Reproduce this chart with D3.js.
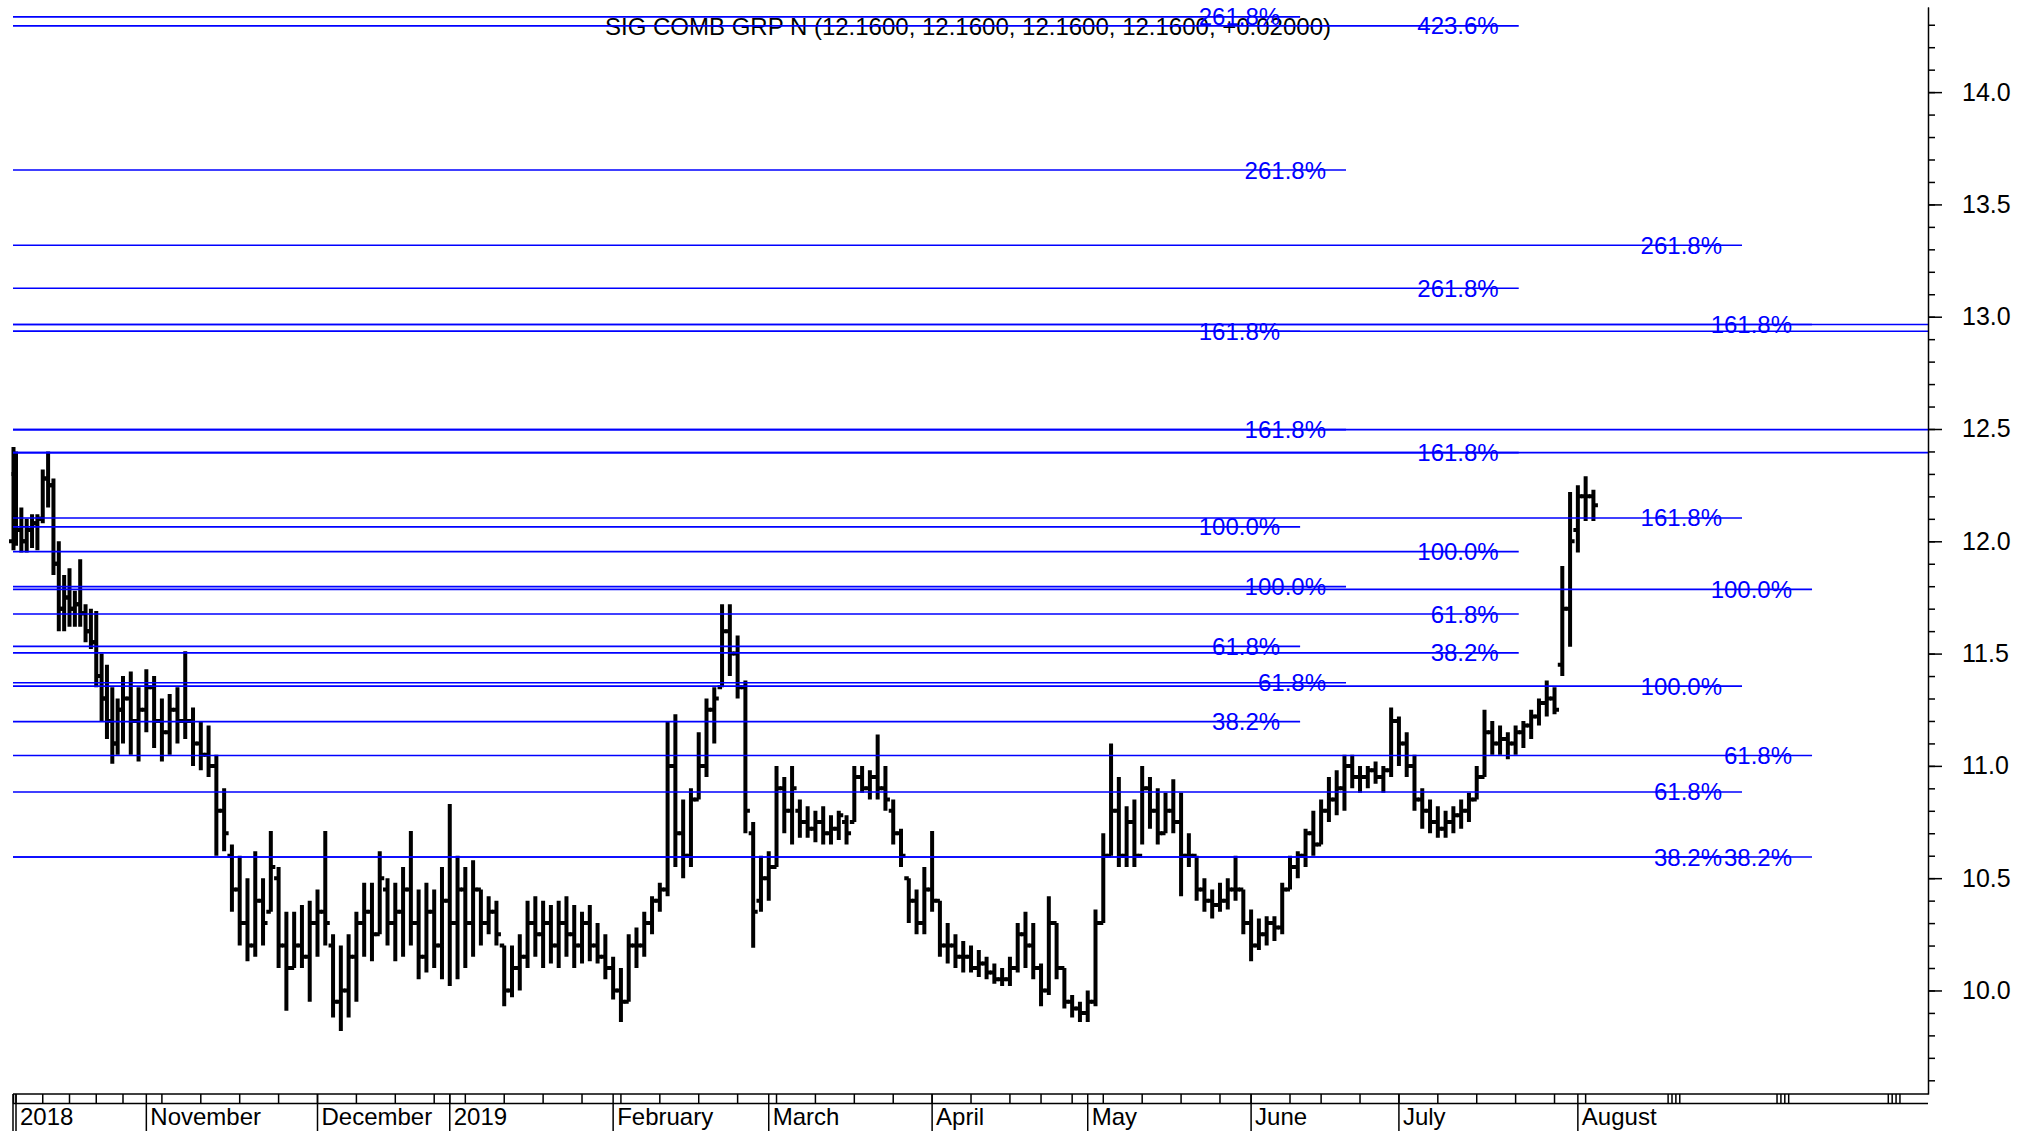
<!DOCTYPE html>
<html>
<head>
<meta charset="utf-8">
<script src="https://cdn.jsdelivr.net/npm/d3@7"></script>
<style>
  html, body { margin: 0; padding: 0; background: #fff; }
  svg { display: block; font-family: "Liberation Sans", Arial, sans-serif; }
</style>
</head>
<body>
<svg id="chart"></svg>
<script>
// ---- data -------------------------------------------------------------
const title = "SIG COMB GRP N (12.1600, 12.1600, 12.1600, 12.1600, +0.02000)";

// SIX trading calendar for the period shown
const firstDay = "2018-09-28";
const lastDay = "2019-08-06";
const holidays = ["2018-12-24", "2018-12-25", "2018-12-26", "2018-12-31", "2019-01-01",
  "2019-01-02", "2019-04-19", "2019-04-22", "2019-05-01", "2019-05-30", "2019-06-10", "2019-08-01"];

const monthLabels = ["2018", "November", "December", "2019", "February", "March",
  "April", "May", "June", "July", "August"];

const highs = [
  12.42,12.40,12.15,12.10,12.12,12.12,12.32,12.40,12.28,12.00,
  11.85,11.88,11.78,11.92,11.72,11.70,11.69,11.50,11.45,11.35,
  11.30,11.40,11.42,11.35,11.43,11.40,11.30,11.32,11.35,11.51,
  11.26,11.20,11.18,11.05,10.90,10.65,10.60,10.50,10.62,10.50,
  10.71,10.55,10.35,10.35,10.38,10.40,10.45,10.71,10.25,10.20,
  10.25,10.35,10.48,10.48,10.62,10.50,10.48,10.55,10.71,10.45,
  10.48,10.45,10.55,10.83,10.60,10.55,10.58,10.45,10.42,10.40,
  10.20,10.20,10.25,10.40,10.42,10.40,10.38,10.40,10.42,10.38,
  10.35,10.38,10.30,10.25,10.15,10.10,10.25,10.28,10.35,10.42,
  10.48,11.20,11.23,10.85,10.90,11.15,11.30,11.35,11.72,11.72,
  11.58,11.38,10.75,10.60,10.62,11.00,10.95,11.00,10.85,10.82,
  10.80,10.82,10.78,10.80,10.78,11.00,11.00,10.98,11.14,11.00,
  10.85,10.72,10.50,10.45,10.55,10.71,10.40,10.30,10.25,10.22,
  10.20,10.18,10.15,10.12,10.10,10.15,10.30,10.35,10.30,10.12,
  10.42,10.30,10.10,9.98,9.95,10.00,10.36,10.70,11.10,10.95,
  10.82,10.85,11.00,10.95,10.90,10.88,10.94,10.88,10.70,10.60,
  10.50,10.45,10.48,10.50,10.60,10.45,10.36,10.32,10.33,10.33,
  10.48,10.60,10.62,10.72,10.80,10.85,10.95,10.98,11.05,11.05,
  11.00,11.00,11.02,11.00,11.26,11.22,11.15,11.05,10.90,10.85,
  10.82,10.80,10.82,10.85,10.88,11.00,11.25,11.20,11.18,11.15,
  11.18,11.20,11.25,11.30,11.38,11.35,11.89,12.22,12.25,12.29,
  12.23];

const lows = [
  11.96,11.98,11.95,11.95,11.97,11.96,12.08,12.15,11.85,11.60,
  11.60,11.62,11.62,11.62,11.55,11.52,11.35,11.20,11.12,11.01,
  11.05,11.10,11.05,11.02,11.15,11.08,11.02,11.05,11.10,11.12,
  11.00,10.98,10.95,10.60,10.62,10.35,10.20,10.13,10.15,10.20,
  10.35,10.10,9.91,10.10,10.10,9.95,10.15,10.20,9.88,9.82,
  9.88,9.95,10.15,10.13,10.25,10.20,10.13,10.15,10.20,10.05,
  10.08,10.10,10.05,10.02,10.05,10.10,10.15,10.20,10.25,10.20,
  9.93,9.97,10.00,10.10,10.15,10.10,10.12,10.10,10.15,10.10,
  10.12,10.13,10.12,10.05,9.96,9.86,9.95,10.10,10.15,10.25,
  10.35,10.42,10.55,10.50,10.55,10.85,10.95,11.10,11.35,11.40,
  11.30,10.70,10.19,10.35,10.40,10.55,10.70,10.65,10.68,10.68,
  10.66,10.65,10.65,10.67,10.65,10.75,10.88,10.85,10.85,10.80,
  10.65,10.55,10.30,10.25,10.25,10.35,10.15,10.12,10.10,10.08,
  10.08,10.06,10.05,10.03,10.02,10.02,10.08,10.10,10.05,9.93,
  9.98,10.05,9.92,9.88,9.86,9.86,9.93,10.30,10.60,10.55,
  10.55,10.55,10.65,10.72,10.65,10.70,10.70,10.42,10.55,10.40,
  10.35,10.32,10.35,10.36,10.40,10.25,10.13,10.18,10.20,10.22,
  10.25,10.45,10.50,10.55,10.60,10.65,10.75,10.78,10.80,10.90,
  10.88,10.90,10.92,10.88,10.95,11.00,10.95,10.80,10.72,10.70,
  10.68,10.68,10.70,10.72,10.75,10.85,10.95,11.05,11.05,11.03,
  11.05,11.08,11.12,11.18,11.22,11.23,11.40,11.53,11.95,12.09,
  12.09];

const opens = [
  12.00,12.30,12.05,12.00,12.05,12.08,12.10,12.28,12.25,11.90,
  11.70,11.75,11.70,11.72,11.68,11.60,11.55,11.40,11.30,11.20,
  11.10,11.25,11.30,11.20,11.25,11.35,11.20,11.15,11.25,11.20,
  11.20,11.10,11.05,11.00,10.80,10.60,10.45,10.30,10.20,10.40,
  10.35,10.50,10.20,10.10,10.20,10.15,10.30,10.35,10.20,9.95,
  10.00,10.15,10.30,10.35,10.25,10.45,10.30,10.35,10.45,10.30,
  10.15,10.35,10.20,10.40,10.30,10.45,10.30,10.45,10.30,10.35,
  10.20,10.00,10.10,10.15,10.30,10.25,10.30,10.20,10.30,10.25,
  10.20,10.30,10.20,10.15,10.10,10.00,9.95,10.20,10.20,10.30,
  10.40,10.45,11.00,10.70,10.60,10.85,11.00,11.25,11.35,11.60,
  11.50,11.35,10.70,10.40,10.50,10.55,10.90,10.80,10.80,10.75,
  10.72,10.75,10.70,10.72,10.75,10.75,10.95,10.90,10.95,10.90,
  10.80,10.70,10.50,10.40,10.30,10.45,10.40,10.20,10.20,10.15,
  10.15,10.10,10.12,10.08,10.05,10.05,10.10,10.25,10.20,10.10,
  10.00,10.30,10.10,9.95,9.92,9.90,9.95,10.30,10.60,10.80,
  10.60,10.75,10.60,10.90,10.80,10.70,10.80,10.75,10.60,10.60,
  10.45,10.40,10.38,10.40,10.45,10.45,10.30,10.20,10.25,10.30,
  10.28,10.45,10.55,10.60,10.70,10.65,10.80,10.85,10.90,11.00,
  10.95,10.95,10.98,10.95,10.98,11.20,11.10,11.00,10.85,10.80,
  10.75,10.72,10.75,10.78,10.80,10.85,10.95,11.15,11.10,11.12,
  11.10,11.15,11.18,11.22,11.28,11.30,11.45,11.70,12.05,12.20,
  12.20];

const closes = [
  12.30,12.05,12.00,12.05,12.08,12.10,12.28,12.25,11.90,11.70,
  11.75,11.70,11.72,11.68,11.60,11.55,11.40,11.30,11.20,11.10,
  11.25,11.30,11.20,11.25,11.35,11.20,11.15,11.25,11.20,11.20,
  11.10,11.05,11.00,10.80,10.70,10.45,10.30,10.20,10.40,10.30,
  10.55,10.20,10.10,10.20,10.15,10.30,10.35,10.30,9.95,10.00,
  10.15,10.30,10.35,10.25,10.50,10.30,10.35,10.45,10.30,10.15,
  10.35,10.20,10.40,10.30,10.45,10.30,10.45,10.30,10.35,10.25,
  10.00,10.10,10.15,10.30,10.25,10.30,10.20,10.30,10.25,10.20,
  10.30,10.20,10.15,10.10,10.00,9.95,10.20,10.20,10.30,10.40,
  10.45,11.00,10.70,10.60,10.85,11.00,11.25,11.30,11.60,11.50,
  11.35,10.80,10.35,10.50,10.55,10.90,10.80,10.90,10.75,10.72,
  10.75,10.70,10.72,10.78,10.70,10.95,10.90,10.95,10.90,10.85,
  10.70,10.60,10.40,10.30,10.45,10.40,10.20,10.20,10.15,10.15,
  10.10,10.12,10.08,10.05,10.05,10.10,10.25,10.20,10.10,10.00,
  10.30,10.10,9.95,9.92,9.90,9.95,10.30,10.60,10.80,10.60,
  10.75,10.60,10.90,10.80,10.70,10.80,10.75,10.60,10.60,10.45,
  10.40,10.38,10.40,10.45,10.45,10.30,10.20,10.25,10.30,10.28,
  10.45,10.55,10.60,10.70,10.65,10.80,10.85,10.90,11.00,10.95,
  10.95,10.98,10.95,10.98,11.20,11.10,11.00,10.85,10.80,10.75,
  10.72,10.75,10.78,10.80,10.85,10.95,11.15,11.10,11.12,11.10,
  11.15,11.18,11.22,11.28,11.30,11.25,11.70,12.00,12.20,12.20,
  12.16];

// Fibonacci extension sets: levels (price), labels, and where each set ends (bar index)
const fibEnds = [172.3, 178.2, 200.4, 229.1, 238.1];
const fibLabelsA = ["261.8%", "161.8%", "100.0%", "61.8%", "38.2%"];
const fibLevelsA = [14.335, 12.935, 12.064, 11.532, 11.197];
const fibLabelsB = ["261.8%", "161.8%", "100.0%", "61.8%"];
const fibLevelsB = [13.653, 12.497, 11.798, 11.370];
const fibLabelsC = ["423.6%", "261.8%", "161.8%", "100.0%", "61.8%", "38.2%"];
const fibLevelsC = [14.295, 13.127, 12.395, 11.954, 11.676, 11.503];
const fibLabelsD = ["261.8%", "161.8%", "100.0%", "61.8%", "38.2%"];
const fibLevelsD = [13.318, 12.104, 11.355, 10.884, 10.594];
const fibLabelsE = ["161.8%", "100.0%", "61.8%", "38.2%"];
const fibLevelsE = [12.965, 11.786, 11.046, 10.594];
// levels that run on to the price axis
const extendedLevels = [fibLevelsA[1], fibLevelsB[1], fibLevelsC[2], fibLevelsE[0]];

// extra tick marks on the time axis beyond the last bar (bar index)
const futureTicks = [219.6, 220.1, 220.6, 221.1, 233.6, 234.1, 234.6, 235.1, 247.9, 248.4, 248.9, 249.4];

const priceTicksMajor = [10.0, 10.5, 11.0, 11.5, 12.0, 12.5, 13.0, 13.5, 14.0];
const priceTicksMinor = d3.range(96, 144).map(d => d / 10);

// ---- layout -----------------------------------------------------------
const width = 2035, height = 1131;
const plotLeft = 13, axisX = 1928;
const plotTop = 7, axisY = 1094, axisY2 = 1103.5;
const blue = "#0000ff";

const svg = d3.select("#chart").attr("width", width).attr("height", height);

// trading days
const fmt = d3.timeFormat("%Y-%m-%d");
const parse = d3.timeParse("%Y-%m-%d");
const hol = new Set(holidays);
const dates = [];
for (let d = parse(firstDay); d <= parse(lastDay); d = d3.timeDay.offset(d, 1)) {
  const wd = d.getDay();
  if (wd !== 0 && wd !== 6 && !hol.has(fmt(d))) dates.push(d);
}
const n = Math.min(dates.length, highs.length);
const bars = d3.range(n).map(i => ({
  i, date: dates[i], o: opens[i], h: highs[i], l: lows[i], c: closes[i]
}));

// October 2018 bars sit closer together than the rest
const dayW = 7.78;
const x = d3.scaleLinear()
  .domain([0, 1, 21, 210])
  .range([13.5, 16, 123, 123 + 189 * dayW]);

const y = d3.scaleLinear()
  .domain([9.539, 14.379])
  .range([axisY, plotTop]);

// title
svg.append("text")
  .attr("x", 968)
  .attr("y", 35)
  .attr("text-anchor", "middle")
  .attr("font-size", 24)
  .attr("fill", "#000")
  .text(title);

// OHLC bars
const barG = svg.append("g")
  .attr("stroke", "#000")
  .attr("stroke-width", 4)
  .attr("fill", "none");

barG.selectAll("path")
  .data(bars)
  .join("path")
  .attr("d", b => {
    const bx = x(b.i);
    return `M${bx},${y(b.h)}V${y(b.l)}` +
      `M${bx - 4.5},${y(b.o)}H${bx}` +
      `M${bx},${y(b.c)}H${bx + 4.5}`;
  });

// Fibonacci lines
const fibSets = [
  { end: fibEnds[0], labels: fibLabelsA, levels: fibLevelsA },
  { end: fibEnds[1], labels: fibLabelsB, levels: fibLevelsB },
  { end: fibEnds[2], labels: fibLabelsC, levels: fibLevelsC },
  { end: fibEnds[3], labels: fibLabelsD, levels: fibLevelsD },
  { end: fibEnds[4], labels: fibLabelsE, levels: fibLevelsE }
];
const fibLines = fibSets.flatMap(s =>
  s.levels.map((v, k) => ({ v, label: s.labels[k], end: s.end })));

const fibG = svg.append("g");
fibG.selectAll("line.ext")
  .data(extendedLevels)
  .join("line")
  .attr("class", "ext")
  .attr("x1", plotLeft)
  .attr("x2", axisX)
  .attr("y1", d => y(d))
  .attr("y2", d => y(d))
  .attr("stroke", blue)
  .attr("stroke-width", 1.6);

fibG.selectAll("line.fib")
  .data(fibLines)
  .join("line")
  .attr("class", "fib")
  .attr("x1", plotLeft)
  .attr("x2", d => x(d.end))
  .attr("y1", d => y(d.v))
  .attr("y2", d => y(d.v))
  .attr("stroke", blue)
  .attr("stroke-width", 1.6);

fibG.selectAll("text")
  .data(fibLines)
  .join("text")
  .attr("x", d => x(d.end) - 20)
  .attr("y", d => y(d.v) + 8.5)
  .attr("text-anchor", "end")
  .attr("font-size", 24)
  .attr("fill", blue)
  .text(d => d.label);

// price axis on the right
const yAxisMinor = d3.axisRight(y)
  .tickValues(priceTicksMinor)
  .tickSize(7)
  .tickSizeOuter(0)
  .tickFormat("");
const yAxisMajor = d3.axisRight(y)
  .tickValues(priceTicksMajor)
  .tickSize(14)
  .tickSizeOuter(0)
  .tickPadding(20)
  .tickFormat(d3.format(".1f"));

svg.append("g")
  .attr("transform", `translate(${axisX},0)`)
  .call(yAxisMinor)
  .call(g => g.selectAll("line").attr("stroke-width", 1.5));

svg.append("g")
  .attr("transform", `translate(${axisX},0)`)
  .call(yAxisMajor)
  .call(g => g.select(".domain").attr("stroke-width", 1.5))
  .call(g => g.selectAll("line").attr("stroke-width", 1.5))
  .call(g => g.selectAll("text")
    .attr("font-size", 25)
    .attr("font-family", "'Liberation Sans', Arial, sans-serif")
    .attr("fill", "#000"));

// time axis along the bottom
const timeG = svg.append("g").attr("stroke", "#000").attr("stroke-width", 1.5);
timeG.append("line").attr("x1", plotLeft).attr("x2", axisX).attr("y1", axisY).attr("y2", axisY);
timeG.append("line").attr("x1", plotLeft).attr("x2", axisX).attr("y1", axisY2).attr("y2", axisY2);
timeG.append("line").attr("x1", plotLeft).attr("x2", plotLeft).attr("y1", axisY).attr("y2", height);

// first trading day of each week and month
const weekStarts = bars.filter((b, k) => k === 0 ||
  d3.timeMonday.floor(b.date) > d3.timeMonday.floor(bars[k - 1].date));
const monthStarts = bars.filter((b, k) => k > 0 && b.date.getMonth() !== bars[k - 1].date.getMonth());

timeG.selectAll("line.week")
  .data(weekStarts)
  .join("line")
  .attr("class", "week")
  .attr("x1", b => x(b.i)).attr("x2", b => x(b.i))
  .attr("y1", axisY).attr("y2", axisY2);

timeG.selectAll("line.future")
  .data(futureTicks)
  .join("line")
  .attr("class", "future")
  .attr("x1", d => x(d)).attr("x2", d => x(d))
  .attr("y1", axisY).attr("y2", axisY2);

timeG.selectAll("line.month")
  .data(monthStarts)
  .join("line")
  .attr("class", "month")
  .attr("x1", b => x(b.i)).attr("x2", b => x(b.i))
  .attr("y1", axisY).attr("y2", height);

svg.append("g")
  .selectAll("text")
  .data(monthStarts)
  .join("text")
  .attr("x", b => x(b.i) + 4)
  .attr("y", 1125)
  .attr("font-size", 24)
  .attr("fill", "#000")
  .text((b, k) => monthLabels[k]);
</script>
</body>
</html>
